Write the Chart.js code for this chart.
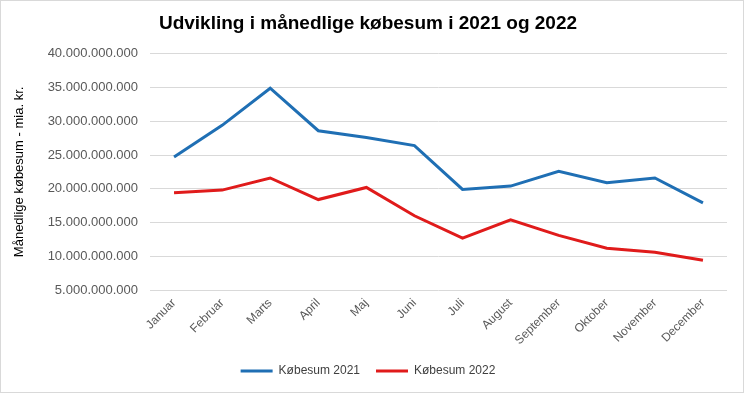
<!DOCTYPE html>
<html>
<head>
<meta charset="utf-8">
<script src="https://cdn.jsdelivr.net/npm/chart.js@4.4.0/dist/chart.umd.min.js"></script>
<style>
html,body{margin:0;padding:0;background:#fff;}
#wrap{position:absolute;left:0;top:0;width:742px;height:391px;border:1px solid #d9d9d9;background:#fff;}
canvas{display:block;}
</style>
</head>
<body>
<div id="wrap"><canvas id="c" width="742" height="391"></canvas></div>
<script>
const categories = ["Januar","Februar","Marts","April","Maj","Juni","Juli","August","September","Oktober","November","December"];
const koebesum2021 = [24.7e9, 29.4e9, 34.9e9, 28.6e9, 27.6e9, 26.4e9, 19.9e9, 20.4e9, 22.6e9, 20.9e9, 21.6e9, 17.9e9];
const koebesum2022 = [19.4e9, 19.8e9, 21.6e9, 18.4e9, 20.2e9, 16.0e9, 12.7e9, 15.4e9, 13.1e9, 11.2e9, 10.6e9, 9.4e9];
const seriesNames = ["Købesum 2021", "Købesum 2022"];
const yMin = 5e9, yMax = 40e9, yStep = 5e9;

function fmt(v){
  return Math.round(v).toString().replace(/\B(?=(\d{3})+(?!\d))/g, ".");
}

new Chart(document.getElementById('c'), {
  type: 'line',
  data: {
    labels: categories,
    datasets: [
      {label: seriesNames[0], data: koebesum2021, borderColor: '#1F6FB4', backgroundColor: '#1F6FB4', borderWidth: 3, pointRadius: 0, tension: 0},
      {label: seriesNames[1], data: koebesum2022, borderColor: '#E01B1B', backgroundColor: '#E01B1B', borderWidth: 3, pointRadius: 0, tension: 0}
    ]
  },
  options: {
    responsive: false,
    animation: false,
    layout: {padding: {left: 8, right: 16, top: 0, bottom: 5}},
    plugins: {
      title: {
        display: true,
        text: 'Udvikling i månedlige købesum i 2021 og 2022',
        color: '#000',
        font: {family: 'Liberation Sans', size: 19, weight: 'bold'},
        padding: {top: 11, bottom: 19}
      },
      legend: {
        position: 'bottom',
        labels: {
          usePointStyle: true,
          pointStyle: 'line',
          pointStyleWidth: 32,
          boxHeight: 3,
          color: '#404040',
          font: {family: 'Liberation Sans', size: 12},
          padding: 16
        }
      },
      tooltip: {enabled: false}
    },
    scales: {
      x: {
        offset: true,
        grid: {display: false, drawTicks: false},
        border: {display: false},
        ticks: {
          autoSkip: false, maxRotation: 45, minRotation: 45,
          color: '#595959',
          font: {family: 'Liberation Sans', size: 12},
          padding: 6
        },
        afterFit: (s) => { s.height = 59; }
      },
      y: {
        min: yMin, max: yMax,
        grid: {color: '#d9d9d9', lineWidth: 1, drawTicks: false},
        border: {display: false},
        ticks: {
          stepSize: yStep,
          color: '#595959',
          font: {family: 'Liberation Sans', size: 13},
          padding: 12,
          callback: (v) => fmt(v)
        },
        title: {
          display: true,
          text: 'Månedlige købesum - mia. kr.',
          color: '#000',
          font: {family: 'Liberation Sans', size: 13},
          padding: {top: 3, bottom: 0}
        },
        afterFit: (s) => { s.width = 141; }
      }
    }
  }
});
</script>
</body>
</html>
